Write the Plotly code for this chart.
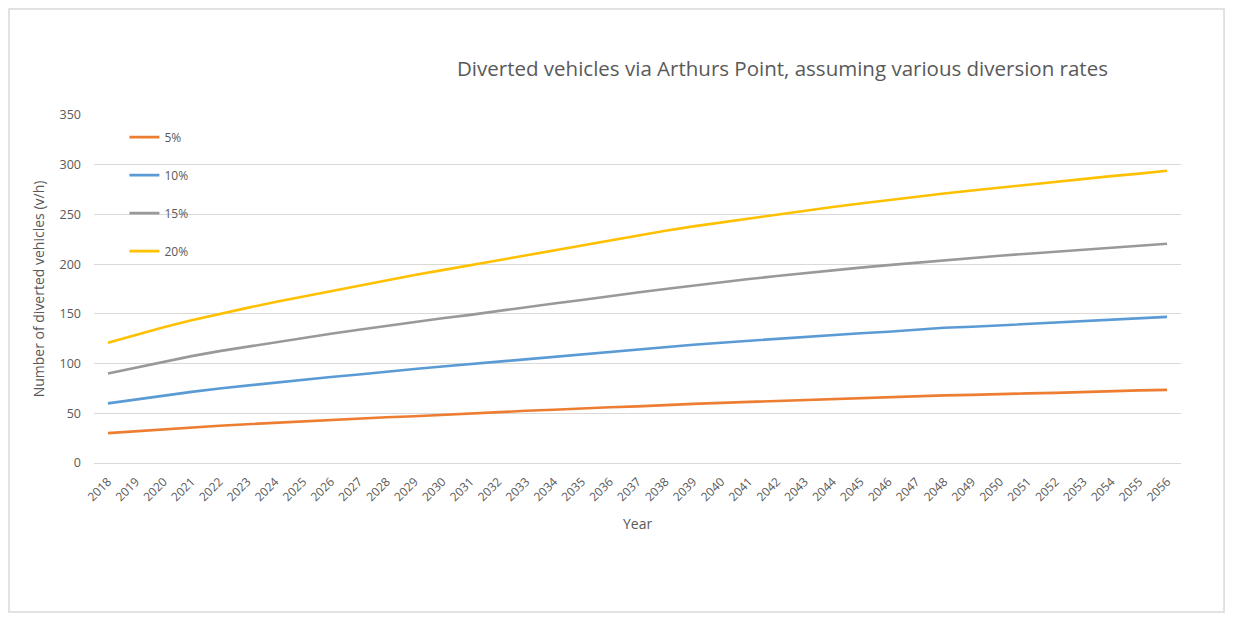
import plotly.graph_objects as go

years = list(range(2018, 2057))
tick_labels = [str(y) for y in years]

series_names = ["5%", "10%", "15%", "20%"]

rate_5 = [30, 32, 34, 36, 37.5, 39, 40.5, 42, 43, 44.5, 46, 47, 48.5, 50, 51, 52.5,
          53.5, 55, 56, 57, 58.5, 59.5, 60.5, 61.5, 62.5, 63.5, 64.5, 65.5, 66, 67,
          68, 68.5, 69.5, 70, 70.5, 71.5, 72, 73, 73.5]
rate_10 = [60, 64, 68, 71.5, 75, 78, 81, 84, 86.5, 89, 92, 94.5, 97, 99.5, 102, 104.5, 107,
           109.5, 112, 114, 116.5, 119, 121, 123, 125, 127, 129, 130.5, 132, 134, 136, 137,
           138.5, 140, 141, 142.5, 144, 146, 147]
rate_15 = [90, 96, 102, 107.5, 112.5, 117, 121.5, 126, 130, 134, 138, 142, 145.5, 149, 153,
           157, 160.5, 164, 168, 171.5, 175, 178.5, 182, 185, 188, 191, 194, 196.5, 199,
           201.5, 204, 206.5, 208.5, 210.5, 212.5, 214.5, 216.5, 218.5, 220.5]
rate_20 = [121, 129, 136.5, 143.5, 150, 156, 162, 167.5, 173, 178.5, 184, 189, 194, 199, 204,
           209, 214, 219, 224, 229, 233.5, 238, 242, 246, 250, 254, 257.5, 261, 264.5, 268,
           271, 274, 277, 280, 283, 286, 288.5, 291, 294]

values = [rate_5, rate_10, rate_15, rate_20]
colors = ["#ED7D31", "#5B9BD5", "#999999", "#FFC000"]

title_text = "Diverted vehicles via Arthurs Point, assuming various diversion rates"
y_title = "Number of diverted vehicles (v/h)"
x_title = "Year"

FONT = "'Open Sans', Lato, sans-serif"
TXT = "#595959"

fig = go.Figure()
for name, vals, col in zip(series_names, values, colors):
    fig.add_trace(go.Scatter(
        x=years, y=vals, name=name, mode="lines",
        line=dict(color=col, width=2.6),
        legendgroup=name,
    ))

fig.update_layout(
    width=1229, height=609,
    margin=dict(l=86, r=56, t=107, b=154),
    paper_bgcolor="white", plot_bgcolor="white",
    font=dict(family=FONT, color=TXT, size=11),
    showlegend=True,
    legend=dict(
        x=0.028, y=0.978, xanchor="left", yanchor="top",
        bgcolor="rgba(0,0,0,0)", borderwidth=0,
        font=dict(size=12, color=TXT, family=FONT),
        tracegroupgap=19, itemwidth=30,
    ),
    xaxis=dict(
        range=[2017.5, 2056.5],
        tickmode="array", tickvals=years, ticktext=tick_labels,
        tickangle=-45, showgrid=False, zeroline=False,
        showline=True, linecolor="#d9d9d9", linewidth=1,
        ticks="", ticklabelstandoff=6,
        tickfont=dict(size=12, color=TXT, family=FONT),
    ),
    yaxis=dict(
        range=[0, 350], dtick=50, showgrid=True, gridcolor="#d9d9d9", gridwidth=1,
        zeroline=False, showline=False, ticks="", ticklabelstandoff=12,
        tickfont=dict(size=12.5, color=TXT, family=FONT),
        title=dict(text=y_title, font=dict(size=14, color=TXT, family=FONT), standoff=11),
    ),
    annotations=[
        dict(text=title_text, x=0.633, y=1.135, xref="paper", yref="paper",
             xanchor="center", yanchor="middle", showarrow=False,
             font=dict(size=20.5, color=TXT, family=FONT)),
        dict(text=x_title, x=0.5, y=-0.175, xref="paper", yref="paper",
             xanchor="center", yanchor="middle", showarrow=False,
             font=dict(size=14, color=TXT, family=FONT)),
    ],
    shapes=[
        dict(type="rect", xref="paper", yref="paper",
             x0=-0.0782, x1=1.0396, y0=-0.428, y1=1.3046,
             line=dict(color="#d9d9d9", width=1.5), fillcolor="rgba(0,0,0,0)",
             layer="below"),
    ],
)

fig.write_html("out.html")
